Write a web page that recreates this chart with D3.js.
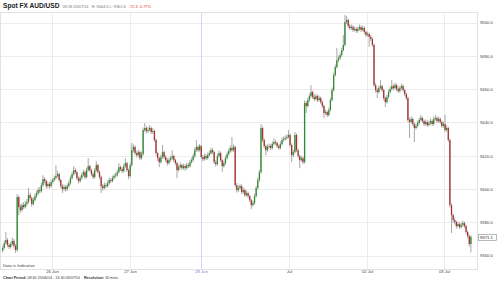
<!DOCTYPE html>
<html lang="en">
<head>
<meta charset="UTF-8" />
<title>Spot FX AUD/USD</title>
<style>
  body { margin: 0; background: #fff; }
  svg { display: block; font-family: 'Liberation Sans', Arial, sans-serif; }
  .grid { stroke: #ececec; stroke-width: 1; }
  .grid.weekend { stroke: #d6d6f4; }
  .wick { stroke: #a8a8a8; stroke-width: 1; }
  .up { fill: #2f8a2f; }
  .down { fill: #a83030; }
  .tick-label { font-size: 4.2px; fill: #444; }
</style>
</head>
<body>
<svg width="500" height="284"></svg>
<script src="https://cdn.jsdelivr.net/npm/d3@7"></script>
<script>
// 30 min trading sessions shown on the axis (weekend gap removed)
const sessions = [
    ['2014-06-25 08:30', '2014-06-27 22:00'],
    ['2014-06-29 20:30', '2014-07-03 10:30']
];
const tickTimes = ['2014-06-26 00:00', '2014-06-27 00:00', '2014-06-28 00:00', '2014-07-01 00:00', '2014-07-02 00:00', '2014-07-03 00:00'];
const tickLabels = ['26 Jun', '27 Jun', '28 Jun', 'Jul', '02 Jul', '03 Jul'];
const yTicks = [9360, 9380, 9400, 9420, 9440, 9460, 9480, 9500];

const firstOpen = 9363.0;
const closes = [
    9364.5, 9367.5, 9369.3, 9366.3, 9365.1, 9366.9, 9368.7, 9365.7, 9363.3, 9395.1,
    9389.1, 9387.3, 9390.3, 9389.1, 9390.9, 9392.1, 9396.3, 9394.5, 9390.9, 9393.3,
    9395.7, 9397.5, 9399.3, 9398.7, 9402.3, 9405.9, 9404.7, 9401.7, 9402.9, 9401.7,
    9404.1, 9405.3, 9406.5, 9407.7, 9408.9, 9405.3, 9401.7, 9399.9, 9401.1, 9399.9,
    9401.7, 9403.5, 9406.5, 9408.9, 9411.3, 9410.1, 9406.5, 9404.7, 9406.5, 9408.3,
    9410.1, 9407.1, 9411.3, 9413.7, 9411.3, 9408.9, 9407.1, 9411.3, 9414.3, 9410.1,
    9407.1, 9401.7, 9400.5, 9402.3, 9401.7, 9403.5, 9405.3, 9404.7, 9406.5, 9407.7,
    9408.3, 9410.1, 9413.1, 9411.9, 9410.7, 9413.7, 9415.5, 9411.3, 9407.7, 9414.3,
    9423.3, 9425.2, 9421.5, 9420.3, 9422.1, 9418.5, 9420.9, 9435.4, 9436.6, 9434.8,
    9435.4, 9436.6, 9434.2, 9434.8, 9429.4, 9421.5, 9418.5, 9416.1, 9419.1, 9422.1,
    9419.1, 9417.3, 9415.5, 9417.3, 9418.5, 9419.7, 9417.3, 9415.5, 9411.3, 9413.1,
    9414.3, 9412.5, 9413.7, 9412.5, 9414.3, 9413.7, 9416.1, 9417.3, 9419.7, 9423.3,
    9425.2, 9423.3, 9425.8,
    9419.1, 9417.9, 9419.7, 9418.5, 9420.3, 9421.5, 9423.3,
    9422.1, 9416.1, 9414.9, 9419.7, 9421.5, 9417.3, 9413.7, 9415.5, 9418.5, 9420.9,
    9422.7, 9424.6, 9423.3, 9425.2, 9402.3, 9399.3, 9400.5, 9401.7, 9398.1, 9399.3,
    9396.3, 9397.5, 9395.7, 9393.3, 9390.3, 9391.5, 9395.7, 9400.5, 9405.3, 9410.1,
    9436.6, 9429.4, 9425.8, 9423.3, 9425.2, 9425.8, 9424.6, 9427.0, 9428.2, 9427.6,
    9425.8, 9424.6, 9427.0, 9429.4, 9430.0, 9430.6, 9431.2, 9432.4, 9426.4, 9420.3,
    9422.1, 9432.4, 9423.3, 9419.7, 9417.3, 9418.5, 9416.1, 9451.6, 9449.8, 9453.4,
    9455.8, 9458.2, 9455.2, 9454.0, 9455.8, 9453.4, 9454.6, 9452.2, 9449.8, 9445.6,
    9446.2, 9444.4, 9447.4, 9453.4, 9459.4, 9468.4, 9473.2, 9477.4, 9478.6, 9480.4,
    9483.4, 9486.5, 9500.3, 9501.5, 9497.9, 9496.7, 9497.3, 9495.5, 9496.1, 9494.9,
    9496.1, 9497.3, 9495.5, 9496.7, 9494.3, 9492.5, 9493.1, 9491.3, 9490.1, 9486.5,
    9462.4, 9459.4, 9458.2, 9460.6, 9461.8, 9459.4, 9454.6, 9452.2, 9455.2, 9458.2,
    9460.0, 9461.8, 9460.6, 9462.4, 9460.0, 9458.8, 9460.6, 9461.8, 9459.4, 9457.0,
    9454.6, 9441.4, 9440.2, 9442.0, 9439.0, 9436.6, 9437.8, 9439.6, 9441.4, 9442.6,
    9440.8, 9439.0, 9440.2, 9438.4, 9439.6, 9440.8, 9439.0, 9442.0, 9442.6, 9440.8,
    9442.0, 9440.2, 9437.8, 9439.0, 9435.4, 9436.6, 9429.4, 9390.3, 9384.3, 9381.3,
    9380.1, 9377.7, 9378.9, 9377.1, 9378.3, 9379.5, 9377.7, 9374.1, 9371.7, 9366.9,
    9371.1
];
const highs = [
    9366.0, 9369.0, 9374.1, 9370.5, 9367.4, 9368.2, 9370.8, 9369.9, 9366.9, 9397.0,
    9396.0, 9390.6, 9391.5, 9392.1, 9392.7, 9393.9, 9400.5, 9397.8, 9395.4, 9394.8,
    9397.2, 9399.0, 9400.8, 9401.1, 9403.8, 9408.2, 9407.1, 9405.6, 9404.4, 9404.1,
    9405.6, 9406.8, 9408.0, 9414.3, 9411.0, 9409.8, 9406.2, 9402.9, 9402.6, 9402.3,
    9403.2, 9405.0, 9408.0, 9410.4, 9413.7, 9412.5, 9411.0, 9407.4, 9408.0, 9409.8,
    9411.6, 9411.0, 9412.8, 9418.5, 9414.6, 9412.2, 9410.1, 9412.5, 9416.7, 9415.2,
    9411.0, 9408.0, 9402.9, 9403.8, 9403.5, 9405.0, 9406.8, 9406.5, 9408.0, 9409.2,
    9409.8, 9411.6, 9415.5, 9414.0, 9413.1, 9415.2, 9418.5, 9416.4, 9412.2, 9415.8,
    9427.6, 9426.7, 9426.1, 9422.7, 9423.6, 9423.0, 9422.4, 9436.9, 9439.6, 9437.8,
    9437.2, 9438.4, 9437.5, 9436.6, 9435.7, 9430.3, 9422.4, 9419.4, 9420.6, 9426.4,
    9423.0, 9420.3, 9418.5, 9418.8, 9420.0, 9423.3, 9420.6, 9418.2, 9416.4, 9414.6,
    9415.8, 9415.2, 9415.2, 9414.9, 9415.8, 9415.5, 9417.6, 9418.8, 9421.2, 9424.8,
    9429.4, 9426.4, 9427.0,
    9426.4, 9420.3, 9421.2, 9420.9, 9421.8, 9423.0, 9424.8,
    9424.5, 9423.0, 9417.3, 9421.2, 9423.0, 9422.4, 9418.2, 9417.0, 9420.0, 9422.4,
    9424.2, 9426.1, 9431.2, 9426.7, 9426.1, 9403.5, 9402.0, 9403.2, 9402.6, 9400.8,
    9400.2, 9399.0, 9398.4, 9396.6, 9394.2, 9393.0, 9397.2, 9402.0, 9406.8, 9411.6,
    9439.0, 9437.5, 9430.3, 9426.7, 9426.7, 9427.3, 9427.0, 9428.5, 9430.3, 9429.4,
    9428.5, 9426.7, 9428.5, 9430.9, 9431.5, 9432.1, 9432.7, 9435.4, 9433.3, 9427.3,
    9423.6, 9434.2, 9433.3, 9424.2, 9420.6, 9420.0, 9419.4, 9453.1, 9452.8, 9454.9,
    9457.3, 9462.4, 9459.1, 9456.7, 9457.3, 9456.7, 9456.1, 9455.5, 9453.1, 9450.7,
    9447.7, 9447.1, 9448.9, 9454.9, 9460.9, 9469.9, 9474.7, 9484.7, 9480.1, 9481.9,
    9484.9, 9492.5, 9504.5, 9503.9, 9502.4, 9499.1, 9498.8, 9498.5, 9497.6, 9497.3,
    9497.6, 9498.8, 9498.2, 9498.2, 9497.6, 9495.2, 9494.6, 9494.0, 9492.5, 9491.0,
    9487.4, 9463.6, 9460.9, 9462.1, 9465.4, 9462.7, 9460.3, 9455.5, 9456.7, 9459.7,
    9461.5, 9465.4, 9463.0, 9463.9, 9463.3, 9461.2, 9462.1, 9463.3, 9462.7, 9460.3,
    9457.9, 9455.5, 9442.9, 9443.5, 9442.9, 9439.9, 9439.3, 9441.1, 9442.9, 9444.4,
    9443.5, 9441.7, 9441.7, 9441.1, 9441.1, 9442.3, 9441.7, 9443.5, 9444.4, 9443.5,
    9443.5, 9442.9, 9441.1, 9440.5, 9444.6, 9438.1, 9437.5, 9430.3, 9391.2, 9385.2,
    9382.8, 9381.0, 9380.4, 9379.8, 9379.8, 9381.0, 9380.4, 9378.6, 9375.0, 9372.6,
    9372.3
];
const lows = [
    9361.9, 9363.8, 9366.5, 9365.0, 9363.9, 9364.3, 9366.0, 9364.2, 9361.5, 9362.4,
    9384.3, 9385.8, 9386.4, 9387.9, 9388.2, 9389.7, 9391.2, 9393.0, 9389.4, 9390.0,
    9392.4, 9394.5, 9396.3, 9397.2, 9397.8, 9401.4, 9403.2, 9400.2, 9400.5, 9400.2,
    9400.8, 9403.2, 9404.4, 9405.6, 9406.8, 9404.1, 9400.5, 9397.5, 9398.7, 9398.4,
    9398.7, 9400.8, 9402.6, 9405.6, 9408.0, 9408.9, 9405.3, 9403.2, 9403.8, 9405.6,
    9407.4, 9405.9, 9406.2, 9410.4, 9410.1, 9407.7, 9405.9, 9406.2, 9410.4, 9409.2,
    9405.9, 9397.5, 9399.0, 9399.6, 9400.5, 9400.8, 9402.6, 9403.5, 9403.8, 9405.6,
    9406.8, 9407.4, 9409.2, 9410.7, 9409.5, 9409.8, 9412.8, 9410.1, 9405.9, 9406.8,
    9413.4, 9422.1, 9420.3, 9418.8, 9419.4, 9417.3, 9417.6, 9420.0, 9434.2, 9433.3,
    9433.6, 9434.5, 9433.0, 9433.0, 9428.2, 9420.0, 9416.7, 9413.1, 9415.2, 9418.2,
    9417.9, 9416.1, 9414.0, 9414.6, 9416.4, 9417.6, 9416.1, 9414.3, 9406.5, 9410.4,
    9412.2, 9411.3, 9411.6, 9411.0, 9411.6, 9412.5, 9412.8, 9415.2, 9416.4, 9418.8,
    9422.4, 9422.1, 9422.4,
    9418.2, 9416.7, 9417.0, 9417.3, 9417.6, 9419.4, 9420.6,
    9420.9, 9414.9, 9413.4, 9414.0, 9418.8, 9416.1, 9410.1, 9412.8, 9414.6, 9417.6,
    9420.0, 9421.8, 9422.1, 9422.4, 9401.1, 9397.8, 9398.1, 9399.6, 9396.9, 9397.2,
    9395.1, 9395.4, 9394.5, 9392.1, 9387.9, 9389.4, 9390.6, 9394.8, 9399.6, 9404.4,
    9409.2, 9428.2, 9424.3, 9420.3, 9422.4, 9424.0, 9423.4, 9423.7, 9426.1, 9426.4,
    9424.6, 9423.4, 9423.7, 9426.1, 9428.5, 9429.1, 9429.7, 9430.3, 9425.2, 9416.1,
    9419.1, 9421.2, 9422.1, 9418.5, 9412.5, 9416.4, 9414.9, 9415.2, 9445.6, 9448.9,
    9452.5, 9454.9, 9454.0, 9452.8, 9453.1, 9452.2, 9452.5, 9451.0, 9448.6, 9442.6,
    9444.4, 9443.2, 9443.5, 9446.5, 9452.5, 9458.5, 9467.5, 9472.3, 9476.2, 9477.4,
    9479.5, 9482.5, 9485.6, 9499.1, 9496.7, 9495.5, 9495.5, 9494.3, 9494.6, 9493.7,
    9494.0, 9495.2, 9494.3, 9494.6, 9493.1, 9491.3, 9491.6, 9485.3, 9488.9, 9485.3,
    9461.2, 9457.9, 9454.6, 9457.3, 9459.7, 9458.2, 9453.1, 9449.2, 9451.3, 9454.3,
    9457.3, 9459.1, 9459.4, 9459.7, 9458.8, 9457.6, 9457.9, 9459.7, 9458.2, 9455.8,
    9453.4, 9440.2, 9430.6, 9439.3, 9437.8, 9428.2, 9435.7, 9436.9, 9438.7, 9440.5,
    9439.6, 9437.8, 9438.1, 9437.2, 9437.5, 9438.7, 9437.8, 9438.1, 9441.1, 9439.6,
    9439.9, 9439.0, 9436.6, 9436.9, 9434.2, 9434.5, 9428.2, 9388.8, 9373.5, 9379.8,
    9378.6, 9376.2, 9376.8, 9375.9, 9376.2, 9377.4, 9376.5, 9372.9, 9370.2, 9365.4,
    9361.8
];

const svg = d3.select('svg');
const plot = { left: 0, right: 478, top: 12, bottom: 269 };
const parse = d3.timeParse('%Y-%m-%d %H:%M');

const slots = sessions.flatMap(([a, b]) => d3.timeMinute.every(30).range(parse(a), parse(b)));

const x = d3.scaleBand()
    .domain(slots.map((d) => +d))
    .range([2, plot.right])
    .paddingInner(0.2);
const y = d3.scaleLinear().domain([9360, 9500]).range([255.5, 22.5]);

const candles = closes.map((c, i) => ({
    t: +slots[i],
    o: i ? closes[i - 1] : firstOpen,
    c: c,
    h: highs[i],
    l: lows[i]
}));

// day boundary positions on the compressed time axis
const dayPos = tickTimes.map((t) => {
    const idx = d3.bisectLeft(slots, parse(t));
    return Math.round(x.range()[0] + idx * x.step()) + 0.5;
});

// horizontal grid
svg.append('g')
    .selectAll('line')
    .data(yTicks)
    .join('line')
    .attr('class', 'grid')
    .attr('x1', plot.left)
    .attr('x2', plot.right)
    .attr('y1', (d) => Math.round(y(d)) + 0.5)
    .attr('y2', (d) => Math.round(y(d)) + 0.5);

// vertical grid
svg.append('g')
    .selectAll('line')
    .data(dayPos)
    .join('line')
    .attr('class', (d, i) => (tickLabels[i] === '28 Jun' ? 'grid weekend' : 'grid'))
    .attr('x1', (d) => d)
    .attr('x2', (d) => d)
    .attr('y1', plot.top)
    .attr('y2', plot.bottom);

// plot frame
svg.append('rect')
    .attr('x', plot.left + 0.5)
    .attr('y', plot.top + 0.5)
    .attr('width', plot.right - plot.left - 1)
    .attr('height', plot.bottom - plot.top)
    .attr('fill', 'none')
    .attr('stroke', '#e2e2e2');

// candles
const bw = x.bandwidth();
const cg = svg.append('g');
cg.selectAll('line')
    .data(candles)
    .join('line')
    .attr('class', 'wick')
    .attr('x1', (d) => x(d.t) + bw / 2)
    .attr('x2', (d) => x(d.t) + bw / 2)
    .attr('y1', (d) => y(d.h))
    .attr('y2', (d) => y(d.l));
cg.selectAll('rect')
    .data(candles)
    .join('rect')
    .attr('class', (d) => (d.c >= d.o ? 'up' : 'down'))
    .attr('x', (d) => x(d.t))
    .attr('width', bw)
    .attr('y', (d) => y(Math.max(d.o, d.c)))
    .attr('height', (d) => Math.max(1, Math.abs(y(d.o) - y(d.c))));

// y axis on the right
const yAxis = svg.append('g')
    .attr('transform', `translate(${plot.right},0)`)
    .call(d3.axisRight(y).tickValues(yTicks).tickFormat(d3.format('.1f')).tickSize(0).tickPadding(2));
yAxis.select('.domain').remove();
yAxis.selectAll('text').attr('class', 'tick-label').attr('font-family', null).attr('font-size', null);

// last price tag
const last = closes[closes.length - 1];
svg.append('rect')
    .attr('x', plot.right + 0.5)
    .attr('y', Math.round(y(last)) - 3 + 0.5)
    .attr('width', 18)
    .attr('height', 6)
    .attr('fill', '#fff')
    .attr('stroke', '#888')
    .attr('stroke-width', 0.6);
svg.append('text')
    .attr('class', 'tick-label')
    .attr('x', plot.right + 2)
    .attr('y', y(last) + 1.5)
    .style('fill', '#222')
    .text(d3.format('.1f')(last));

// x labels
svg.append('g')
    .selectAll('text')
    .data(tickLabels)
    .join('text')
    .attr('class', 'tick-label')
    .attr('x', (d, i) => dayPos[i])
    .attr('y', 273)
    .attr('text-anchor', 'middle')
    .style('fill', (d) => (d === '28 Jun' ? '#7a7ad8' : '#444'))
    .text((d) => d);

svg.append('text')
    .attr('class', 'tick-label')
    .attr('x', 3)
    .attr('y', 267)
    .text('Data is Indicative');

// header
const head = svg.append('text').attr('x', 3).attr('y', 7.5);
head.append('tspan').attr('font-weight', 'bold').attr('font-size', '6.6px').attr('fill', '#222').text('Spot FX AUD/USD');
head.append('tspan').attr('font-size', '3.9px').attr('fill', '#777').attr('dx', 3).text('08:18 03/07/14');
head.append('tspan').attr('font-size', '3.9px').attr('fill', '#777').attr('dx', 3).text('H: 9444.6  L: 9361.8');
head.append('tspan').attr('font-size', '3.9px').attr('fill', '#d33').attr('dx', 3).text('-72.3  -0.77%');

// footer
const foot = svg.append('text').attr('x', 3).attr('y', 279).attr('font-size', '3.7px').attr('fill', '#333');
foot.append('tspan').attr('font-weight', 'bold').text('Chart Period:');
foot.append('tspan').text(' 08:30 25/06/14 - 13:30 03/07/14');
foot.append('tspan').attr('font-weight', 'bold').attr('dx', 4).text('Resolution:');
foot.append('tspan').text(' 30 mins');
</script>
</body>
</html>
